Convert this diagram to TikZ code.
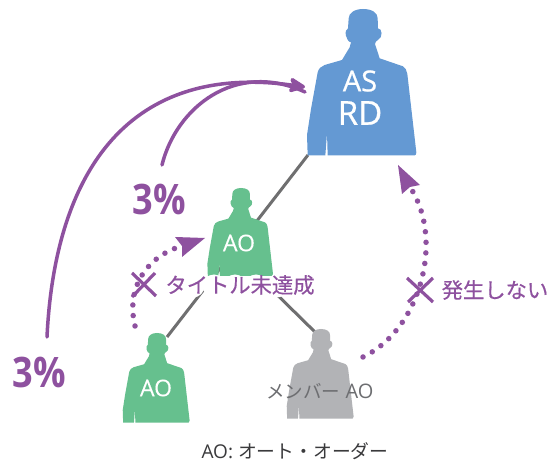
\documentclass[tikz,border=0pt]{standalone}
\usepackage{fontspec}
\usetikzlibrary{arrows.meta}
\setmainfont{Open Sans}
\newfontfamily\jp{Noto Sans CJK JP}
\newfontfamily\jpw[FakeBold=0.4]{Noto Sans CJK JP}
\newfontfamily\wt[FakeBold=0.7]{Open Sans}
\newfontfamily\wtl[FakeBold=0.25]{Open Sans}
\newfontfamily\pctfont[FakeStretch=0.86]{Open Sans}
\definecolor{pblue}{HTML}{6499D3}
\definecolor{pgreen}{HTML}{66C08E}
\definecolor{pgray}{HTML}{B2B3B6}
\definecolor{ppurple}{HTML}{8E519F}
\definecolor{linegray}{HTML}{6F6F70}
\definecolor{memgray}{HTML}{6D6E71}
\definecolor{capdark}{HTML}{3A3A3C}
\tikzset{
  person/.pic={
    \fill[pic actions] (0,0) .. controls (28,0) and (44,12) .. (44,28) -- (45,58)
      .. controls (58,58) and (60,85) .. (46,92)
      .. controls (40,95) and (36,100) .. (36,105) -- (50,148)
      -- (120,172) .. controls (128,175) and (130,185) .. (133,195)
      -- (160,430) .. controls (160,436) and (158,439) .. (155,439)
      -- (-106,439) -- (-108,372) -- (-113,439) -- (-166,439)
      -- (-168,378) -- (-156,300)
      -- (-136,190) .. controls (-133,178) and (-125,172) .. (-115,168)
      -- (-63,153) -- (-40,115) -- (-36,100) .. controls (-52,97) and (-58,62) .. (-45,58)
      -- (-43,28) .. controls (-43,12) and (-25,0) .. (0,0) -- cycle;
  },
  link/.style={draw=linegray,line width=3pt},
  gain/.style={draw=ppurple,line width=3.5pt,line cap=round},
  fail/.style={draw=ppurple,line width=5.5pt,line cap=round,dash pattern=on 0pt off 10.6pt},
  bighead/.style={-{Stealth[length=20pt,width=18pt,inset=5pt,round=false]}},
  cross/.style={draw=ppurple,line width=3.2pt},
  pct/.style={text=ppurple,font=\pctfont\bfseries\fontsize{42}{42}\selectfont,inner sep=0pt},
  plabel/.style={text=ppurple,font=\jpw\fontsize{21.3}{21.3}\selectfont,inner sep=0pt},
  inwhite/.style={text=white,inner sep=0pt},
}
\begin{document}
\begin{tikzpicture}[x=1pt,y=-1pt]
\useasboundingbox (0,0) rectangle (555,462);
\fill[white] (0,0) rectangle (555,462);
% connection points
\coordinate (asfoot) at (308,155);
\coordinate (aobottomhead) at (167,337);
\coordinate (midfoot) at (258,276);
\coordinate (memhead) at (316,333);
\coordinate (o1) at (47,337);
\coordinate (o2) at (305,87);
\coordinate (i1) at (162,165);
\coordinate (i2) at (305,92);
\coordinate (d1) at (135,326);
\coordinate (d2) at (205,238);
\coordinate (e1) at (363,357);
\coordinate (e2) at (398,165);
\draw[link] (asfoot) -- (aobottomhead);
\draw[link] (midfoot) -- (memhead);
% figures
\pic[fill=pblue,scale=0.3333] at (363,9) {person};
\pic[fill=pgreen,scale=0.2] at (241,188) {person};
\pic[fill=pgreen,scale=0.204] at (157,333) {person};
\pic[fill=pgray,scale=0.204] at (321,329) {person};
% white halo of the label
\foreach \cx in {172,193,214,235,256,277,298,310}
  \fill[white] (\cx,286) circle (11.5);
% arcs
\draw[gain,bighead] (o1) .. controls (55,170) and (130,62) .. (o2);
\draw[gain] (i1) .. controls (176,108) and (235,60) .. (i2);
% dotted arcs
\draw[fail] (d1) .. controls (125,285) and (150,255) .. (182,246);
\draw[draw=none,fill=ppurple] (d2) -- (175,237) -- (182,246) -- (182,257) -- cycle;
\draw[fail] (e1) .. controls (420,330) and (445,240) .. (410,187);
\fill[ppurple] (e2) -- (420,185) -- (410,187) -- (402,194) -- cycle;
% crosses
\draw[cross] (132,273) -- (156,296) (155,273) -- (132,297);
\draw[cross] (407,278) -- (433,302) (433,278) -- (408,302);
% labels
\node[inwhite,font=\wt\fontsize{29}{29}\selectfont] (as) at (360,81) {AS};
\node[inwhite,font=\wt\fontsize{33}{33}\selectfont] (rd) at (360,113) {RD};
\node[inwhite,font=\wtl\fontsize{23}{23}\selectfont] (ao1) at (239,243) {AO};
\node[inwhite,font=\wtl\fontsize{23}{23}\selectfont] (ao2) at (156,388) {AO};
\node[pct] (p1) at (159,200) {3\%};
\node[pct] (p2) at (39,372) {3\%};
\node[plabel] (title) at (240,285) {タイトル未達成};
\node[plabel] (none) at (495,290) {発生しない};
\node[text=memgray,inner sep=0pt,font=\fontsize{20}{20}\selectfont] (mem) at (320,391) {{\jp\fontsize{18.5}{18.5}\selectfont メンバー} AO};
\node[text=capdark,inner sep=0pt,font=\fontsize{19}{19}\selectfont] (cap) at (295,451) {AO: {\jp\fontsize{18.8}{18.8}\selectfont オート・オーダー}};
\end{tikzpicture}
\end{document}
